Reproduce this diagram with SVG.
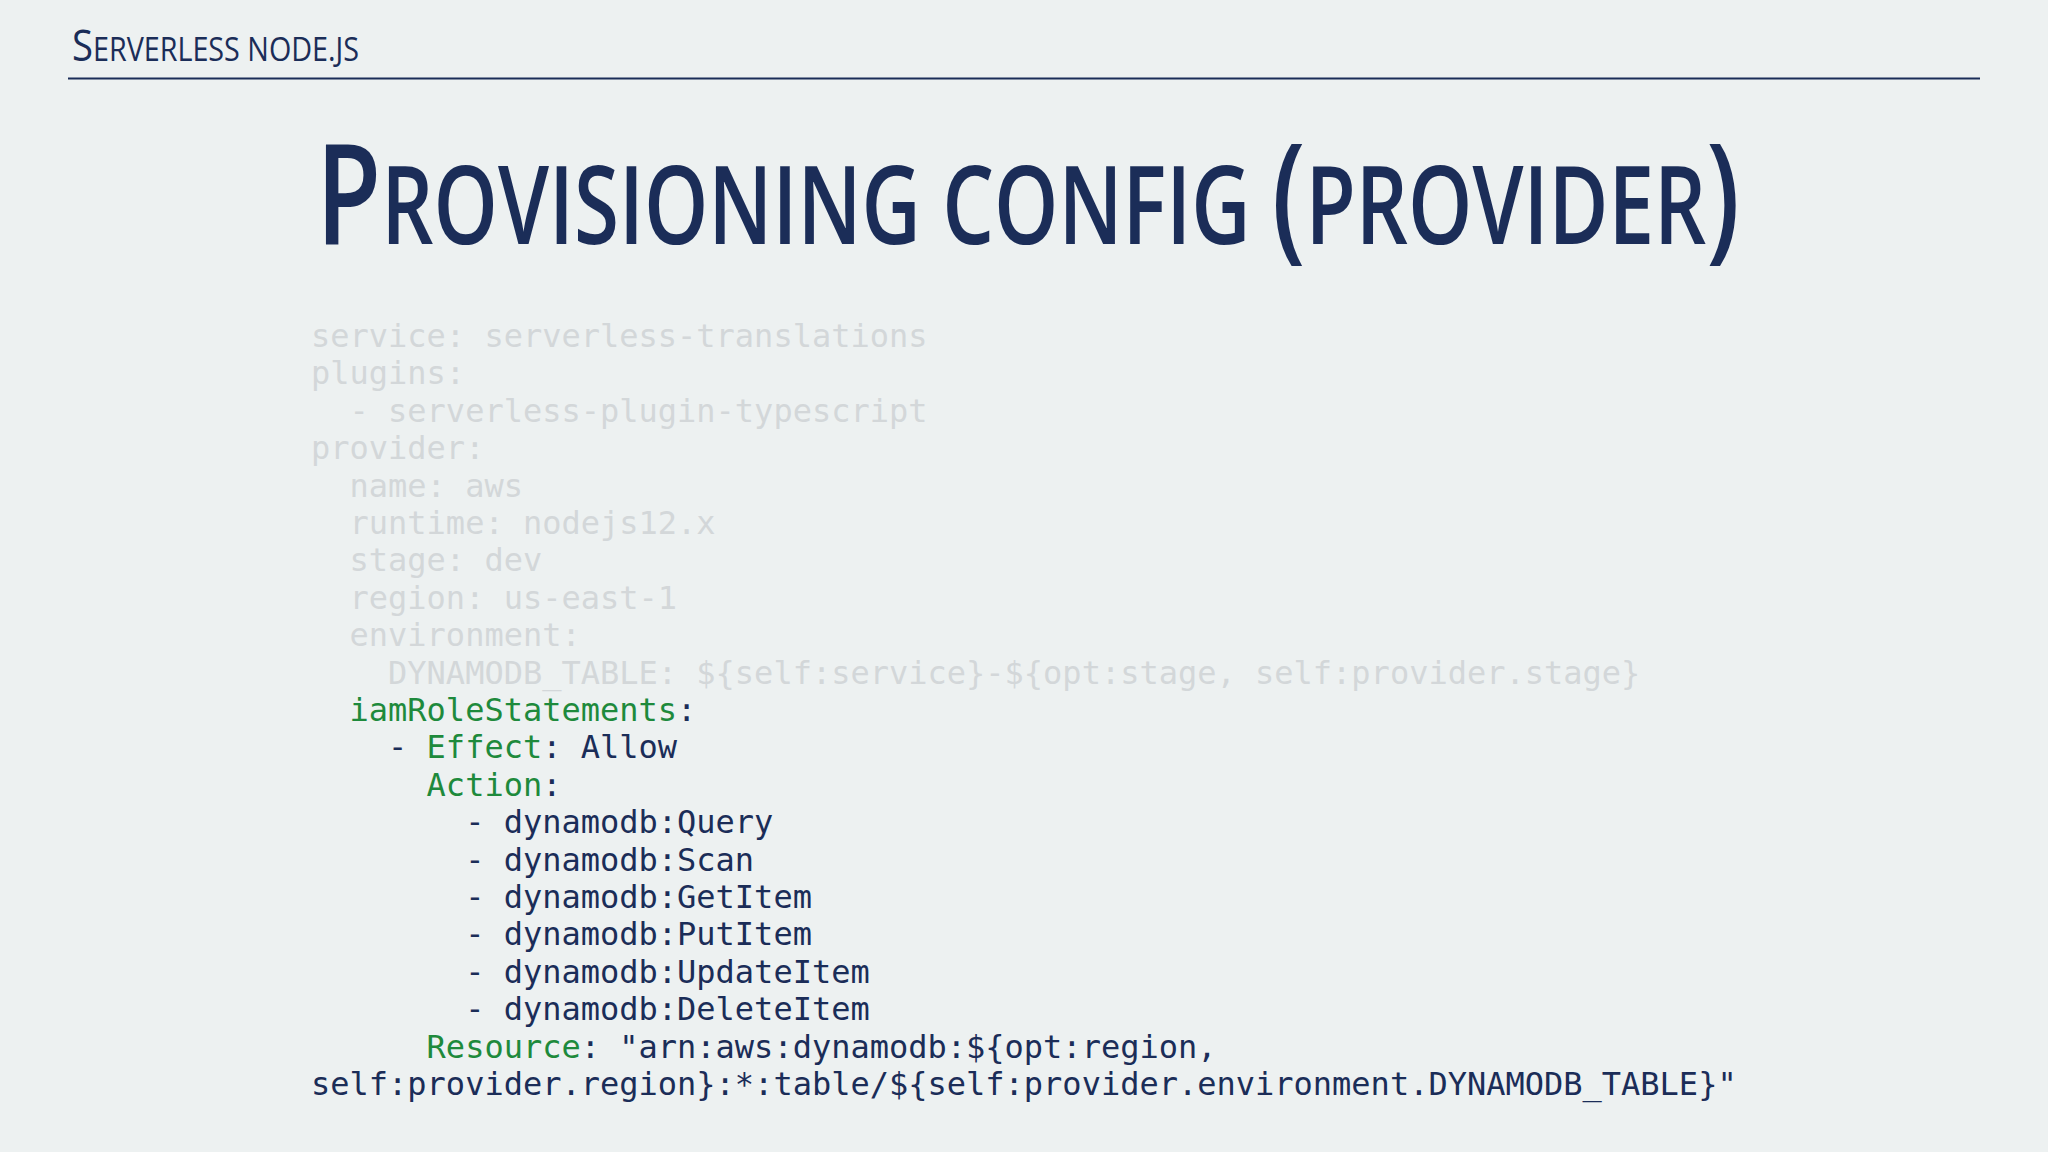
<svg xmlns="http://www.w3.org/2000/svg" width="2048" height="1152" viewBox="0 0 2048 1152" xml:space="preserve">
<style>
.c{font-family:"DejaVu Sans Mono",monospace;font-size:32px;white-space:pre}
.g{fill:#d3d7d9}.k{fill:#1e8a3c}.n{fill:#1b2d58}
.h{font-family:"Open Sans","Liberation Sans",sans-serif;fill:#1b2d58}
</style>
<rect width="2048" height="1152" fill="#edf1f1"/>
<g id="header">
<text class="h" x="72" y="61" textLength="287" lengthAdjust="spacingAndGlyphs"><tspan font-size="44">S</tspan><tspan font-size="33">ERVERLESS NODE.JS</tspan></text>
<line x1="68" y1="78.5" x2="1980" y2="78.5" stroke="#1b2d58" stroke-width="2"/>
</g>
<g id="title">
<text class="h" x="316" y="244" textLength="1424" lengthAdjust="spacingAndGlyphs" font-weight="600"><tspan font-size="140">P</tspan><tspan font-size="108">ROVISIONING CONFIG </tspan><tspan font-size="140">(</tspan><tspan font-size="108">PROVIDER</tspan><tspan font-size="140">)</tspan></text>
</g>
<g id="code" class="c">
<text xml:space="preserve" x="311" y="347" class="g">service: serverless-translations</text>
<text xml:space="preserve" x="311" y="384.4" class="g">plugins:</text>
<text xml:space="preserve" x="311" y="421.8" class="g">  - serverless-plugin-typescript</text>
<text xml:space="preserve" x="311" y="459.2" class="g">provider:</text>
<text xml:space="preserve" x="311" y="496.6" class="g">  name: aws</text>
<text xml:space="preserve" x="311" y="534" class="g">  runtime: nodejs12.x</text>
<text xml:space="preserve" x="311" y="571.4" class="g">  stage: dev</text>
<text xml:space="preserve" x="311" y="608.8" class="g">  region: us-east-1</text>
<text xml:space="preserve" x="311" y="646.2" class="g">  environment:</text>
<text xml:space="preserve" x="311" y="683.6" class="g">    DYNAMODB_TABLE: ${self:service}-${opt:stage, self:provider.stage}</text>
<text xml:space="preserve" x="311" y="721" class="n">  <tspan class="k">iamRoleStatements</tspan>:</text>
<text xml:space="preserve" x="311" y="758.4" class="n">    - <tspan class="k">Effect</tspan>: Allow</text>
<text xml:space="preserve" x="311" y="795.8" class="n">      <tspan class="k">Action</tspan>:</text>
<text xml:space="preserve" x="311" y="833.2" class="n">        - dynamodb:Query</text>
<text xml:space="preserve" x="311" y="870.6" class="n">        - dynamodb:Scan</text>
<text xml:space="preserve" x="311" y="908" class="n">        - dynamodb:GetItem</text>
<text xml:space="preserve" x="311" y="945.4" class="n">        - dynamodb:PutItem</text>
<text xml:space="preserve" x="311" y="982.8" class="n">        - dynamodb:UpdateItem</text>
<text xml:space="preserve" x="311" y="1020.2" class="n">        - dynamodb:DeleteItem</text>
<text xml:space="preserve" x="311" y="1057.6" class="n">      <tspan class="k">Resource</tspan>: "arn:aws:dynamodb:${opt:region,</text>
<text xml:space="preserve" x="311" y="1095" class="n">self:provider.region}:*:table/${self:provider.environment.DYNAMODB_TABLE}"</text>
</g>
</svg>
